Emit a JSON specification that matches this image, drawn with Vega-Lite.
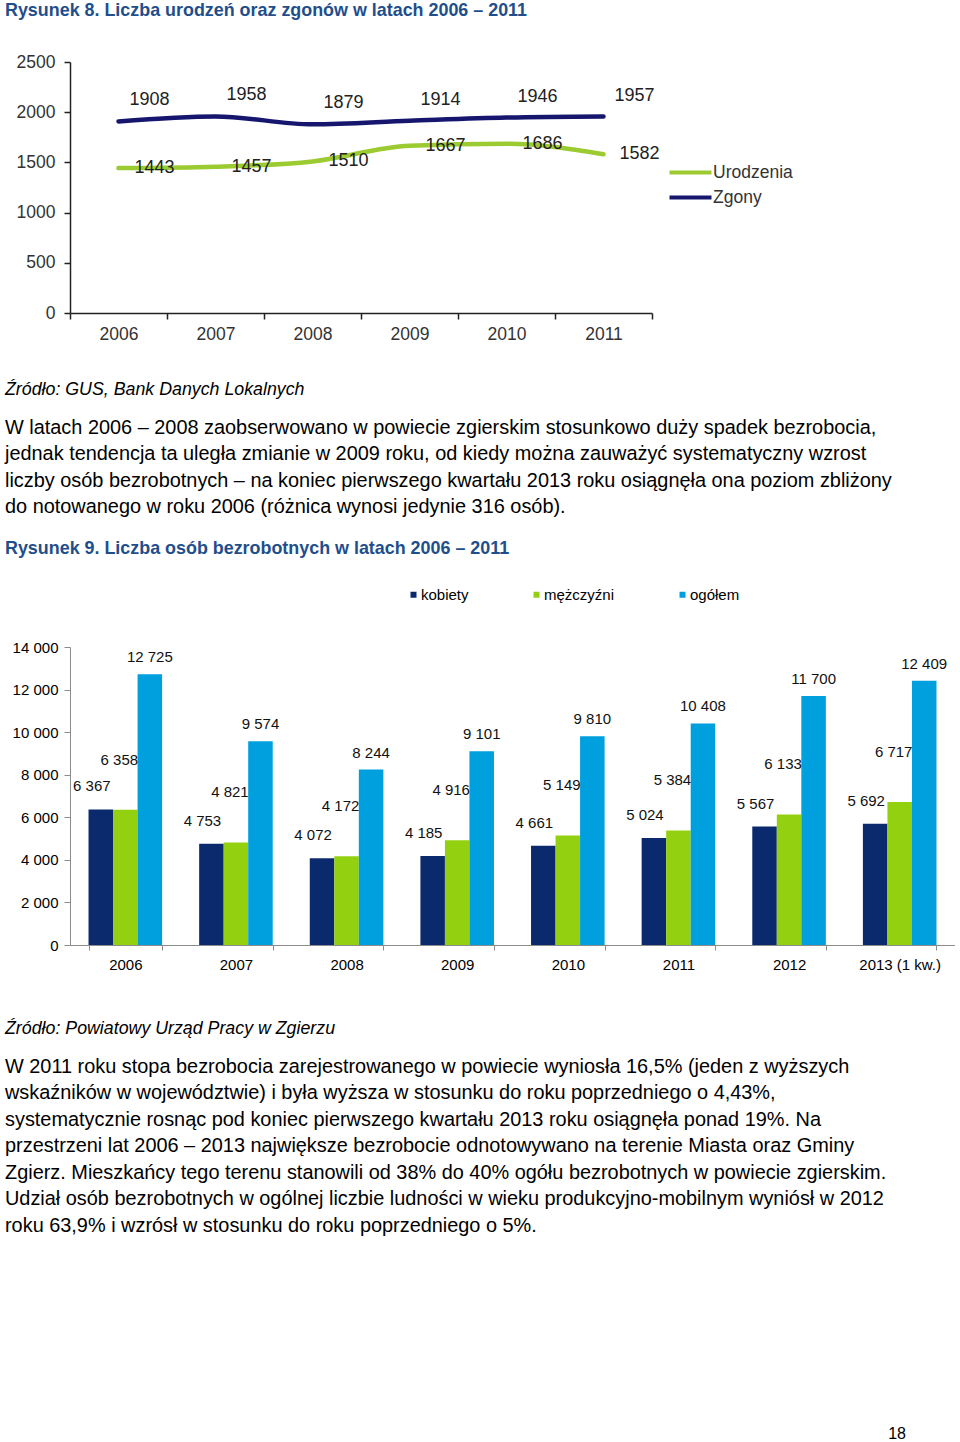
{
  "$schema": "https://vega.github.io/schema/vega-lite/v6.json",
  "padding": {"left": 5, "top": 2, "right": 0, "bottom": 0},
  "background": "white",
  "spacing": 22,
  "resolve": {"scale": {"color": "independent"}, "legend": {"color": "independent"}},
  "datasets": {
    "linie": [
      {"rok": "2006", "seria": "Urodzenia", "wartosc": 1443},
      {"rok": "2007", "seria": "Urodzenia", "wartosc": 1457},
      {"rok": "2008", "seria": "Urodzenia", "wartosc": 1510},
      {"rok": "2009", "seria": "Urodzenia", "wartosc": 1667},
      {"rok": "2010", "seria": "Urodzenia", "wartosc": 1686},
      {"rok": "2011", "seria": "Urodzenia", "wartosc": 1582},
      {"rok": "2006", "seria": "Zgony", "wartosc": 1908},
      {"rok": "2007", "seria": "Zgony", "wartosc": 1958},
      {"rok": "2008", "seria": "Zgony", "wartosc": 1879},
      {"rok": "2009", "seria": "Zgony", "wartosc": 1914},
      {"rok": "2010", "seria": "Zgony", "wartosc": 1946},
      {"rok": "2011", "seria": "Zgony", "wartosc": 1957}
    ],
    "slupki": [
      {"rok": "2006", "plec": "kobiety", "liczba": 6367},
      {"rok": "2006", "plec": "mężczyźni", "liczba": 6358},
      {"rok": "2006", "plec": "ogółem", "liczba": 12725},
      {"rok": "2007", "plec": "kobiety", "liczba": 4753},
      {"rok": "2007", "plec": "mężczyźni", "liczba": 4821},
      {"rok": "2007", "plec": "ogółem", "liczba": 9574},
      {"rok": "2008", "plec": "kobiety", "liczba": 4072},
      {"rok": "2008", "plec": "mężczyźni", "liczba": 4172},
      {"rok": "2008", "plec": "ogółem", "liczba": 8244},
      {"rok": "2009", "plec": "kobiety", "liczba": 4185},
      {"rok": "2009", "plec": "mężczyźni", "liczba": 4916},
      {"rok": "2009", "plec": "ogółem", "liczba": 9101},
      {"rok": "2010", "plec": "kobiety", "liczba": 4661},
      {"rok": "2010", "plec": "mężczyźni", "liczba": 5149},
      {"rok": "2010", "plec": "ogółem", "liczba": 9810},
      {"rok": "2011", "plec": "kobiety", "liczba": 5024},
      {"rok": "2011", "plec": "mężczyźni", "liczba": 5384},
      {"rok": "2011", "plec": "ogółem", "liczba": 10408},
      {"rok": "2012", "plec": "kobiety", "liczba": 5567},
      {"rok": "2012", "plec": "mężczyźni", "liczba": 6133},
      {"rok": "2012", "plec": "ogółem", "liczba": 11700},
      {"rok": "2013 (1 kw.)", "plec": "kobiety", "liczba": 5692},
      {"rok": "2013 (1 kw.)", "plec": "mężczyźni", "liczba": 6717},
      {"rok": "2013 (1 kw.)", "plec": "ogółem", "liczba": 12409}
    ]
  },
  "vconcat": [
    {
      "width": 582,
      "height": 251,
      "title": {
        "text": "Rysunek 8. Liczba urodzeń oraz zgonów w latach 2006 – 2011",
        "anchor": "start", "frame": "group", "dx": -65, "offset": 33,
        "font": "Liberation Sans", "fontSize": 17.9, "fontWeight": "bold", "fontStyle": "normal", "color": "#1F4E8C"
      },
      "data": {"name": "linie"},
      "encoding": {
        "x": {
          "field": "rok", "type": "ordinal",
          "scale": {"type": "band", "paddingInner": 0, "paddingOuter": 0},
          "axis": {"title": null, "labelAngle": 0, "tickBand": "extent", "tickSize": 6, "labelPadding": 6,
                   "labelFontSize": 17.5, "labelColor": "#333333", "domainColor": "#222222", "tickColor": "#222222", "domainWidth": 1.5, "tickWidth": 1.5}
        },
        "y": {
          "field": "wartosc", "type": "quantitative",
          "scale": {"domain": [0, 2500]},
          "axis": {"title": null, "values": [0, 500, 1000, 1500, 2000, 2500], "format": "d", "tickSize": 6, "labelPadding": 9,
                   "labelFontSize": 17.5, "labelColor": "#333333", "domainColor": "#222222", "tickColor": "#222222", "domainWidth": 1.5, "tickWidth": 1.5}
        }
      },
      "layer": [
        {
          "mark": {"type": "line", "interpolate": "monotone", "strokeWidth": 4.5, "strokeCap": "round"},
          "encoding": {
            "color": {
              "field": "seria", "type": "nominal",
              "scale": {"domain": ["Urodzenia", "Zgony"], "range": ["#9BCB30", "#16166E"]},
              "legend": {"title": null, "orient": "none", "direction": "vertical", "legendX": 608, "legendY": 98, "symbolType": "M-2,0H2",
                         "symbolSize": 441, "symbolStrokeWidth": 4, "labelFontSize": 17.5, "labelColor": "#333333",
                         "labelOffset": 10, "rowPadding": 4, "padding": 0}
            }
          }
        },
        {
          "transform": [{"filter": "datum.seria === 'Zgony'"}],
          "mark": {"type": "text", "dx": 31, "dy": -21, "fontSize": 18, "color": "#222222", "baseline": "middle"},
          "encoding": {"text": {"field": "wartosc", "type": "quantitative", "format": "d"}}
        },
        {
          "transform": [{"filter": "datum.seria === 'Urodzenia'"}],
          "mark": {"type": "text", "dx": 36, "dy": 0, "fontSize": 18, "color": "#222222", "baseline": "middle"},
          "encoding": {"text": {"field": "wartosc", "type": "quantitative", "format": "d"}}
        }
      ]
    },
    {
      "width": 836,
      "height": 16,
      "data": {"values": []},
      "mark": "point",
      "title": {
        "text": "Źródło: GUS, Bank Danych Lokalnych",
        "orient": "bottom", "anchor": "start", "frame": "group", "offset": 0, "dx": -65,
        "font": "Liberation Sans", "fontSize": 17.8, "fontStyle": "italic", "fontWeight": "normal", "color": "#000000",
        "subtitle": [
          "W latach 2006 – 2008 zaobserwowano w powiecie zgierskim stosunkowo duży spadek bezrobocia,",
          "jednak tendencja ta uległa zmianie w 2009 roku, od kiedy można zauważyć systematyczny wzrost",
          "liczby osób bezrobotnych – na koniec pierwszego kwartału 2013 roku osiągnęła ona poziom zbliżony",
          "do notowanego w roku 2006 (różnica wynosi jedynie 316 osób)."
        ],
        "subtitleFont": "Liberation Sans", "subtitleFontSize": 19.9, "subtitleColor": "#000000",
        "subtitleLineHeight": 26.5, "subtitlePadding": 19, "subtitleFontStyle": "normal", "subtitleFontWeight": "normal"
      }
    },
    {
      "width": 885,
      "height": 298,
      "title": {
        "text": "Rysunek 9. Liczba osób bezrobotnych w latach 2006 – 2011",
        "anchor": "start", "frame": "group", "dx": -65, "offset": 29,
        "font": "Liberation Sans", "fontSize": 17.9, "fontWeight": "bold", "fontStyle": "normal", "color": "#1F4E8C"
      },
      "data": {"name": "slupki"},
      "encoding": {
        "x": {
          "field": "rok", "type": "nominal", "sort": null,
          "scale": {"paddingInner": 0.335, "paddingOuter": 0.1675},
          "axis": {"title": null, "labelAngle": 0, "tickBand": "extent", "tickSize": 5, "labelPadding": 7,
                   "labelFontSize": 15, "labelColor": "#000000", "domainColor": "#8C8C8C", "tickColor": "#8C8C8C"}
        },
        "y": {
          "field": "liczba", "type": "quantitative",
          "scale": {"domain": [0, 14000]},
          "axis": {"title": null, "values": [0, 2000, 4000, 6000, 8000, 10000, 12000, 14000], "format": ",d",
                   "tickSize": 6, "labelPadding": 6, "labelFontSize": 15, "labelColor": "#000000",
                   "domainColor": "#8C8C8C", "tickColor": "#8C8C8C"}
        },
        "xOffset": {
          "field": "plec", "type": "nominal", "sort": ["kobiety", "mężczyźni", "ogółem"],
          "scale": {"paddingInner": 0, "paddingOuter": 0}
        }
      },
      "layer": [
        {
          "mark": {"type": "bar"},
          "encoding": {
            "color": {
              "field": "plec", "type": "nominal",
              "scale": {"domain": ["kobiety", "mężczyźni", "ogółem"], "range": ["#0B2A6E", "#93D010", "#00A0DE"]},
              "legend": {"title": null, "orient": "none", "direction": "horizontal", "legendX": 336, "legendY": -60,
                         "symbolType": "square", "symbolSize": 36, "symbolStrokeWidth": 0, "labelFontSize": 15,
                         "labelOffset": 0, "columnPadding": 60, "padding": 0, "labelColor": "#000000"}
            }
          }
        },
        {
          "transform": [{"filter": "datum.plec === 'kobiety'"}],
          "mark": {"type": "text", "dx": -9, "dy": -23, "fontSize": 15, "color": "#111111", "baseline": "middle"},
          "encoding": {"text": {"field": "liczba", "type": "quantitative", "format": ",d"}}
        },
        {
          "transform": [{"filter": "datum.plec === 'mężczyźni'"}],
          "mark": {"type": "text", "dx": -6, "dy": -50, "fontSize": 15, "color": "#111111", "baseline": "middle"},
          "encoding": {"text": {"field": "liczba", "type": "quantitative", "format": ",d"}}
        },
        {
          "transform": [{"filter": "datum.plec === 'ogółem'"}],
          "mark": {"type": "text", "dx": 0, "dy": -17, "fontSize": 15, "color": "#111111", "baseline": "middle"},
          "encoding": {"text": {"field": "liczba", "type": "quantitative", "format": ",d"}}
        }
      ]
    },
    {
      "width": 836,
      "height": 26,
      "data": {"values": []},
      "mark": "point",
      "title": {
        "text": "Źródło: Powiatowy Urząd Pracy w Zgierzu",
        "orient": "bottom", "anchor": "start", "frame": "group", "offset": 0, "dx": -65,
        "font": "Liberation Sans", "fontSize": 17.8, "fontStyle": "italic", "fontWeight": "normal", "color": "#000000",
        "subtitle": [
          "W 2011 roku stopa bezrobocia zarejestrowanego w powiecie wyniosła 16,5% (jeden z wyższych",
          "wskaźników w województwie) i była wyższa w stosunku do roku poprzedniego o 4,43%,",
          "systematycznie rosnąc pod koniec pierwszego kwartału 2013 roku osiągnęła ponad 19%. Na",
          "przestrzeni lat 2006 – 2013 największe bezrobocie odnotowywano na terenie Miasta oraz Gminy",
          "Zgierz. Mieszkańcy tego terenu stanowili od 38% do 40% ogółu bezrobotnych w powiecie zgierskim.",
          "Udział osób bezrobotnych w ogólnej liczbie ludności w wieku produkcyjno-mobilnym wyniósł w 2012",
          "roku 63,9% i wzrósł w stosunku do roku poprzedniego o 5%."
        ],
        "subtitleFont": "Liberation Sans", "subtitleFontSize": 19.9, "subtitleColor": "#000000",
        "subtitleLineHeight": 26.5, "subtitlePadding": 19, "subtitleFontStyle": "normal", "subtitleFontWeight": "normal"
      }
    },
    {
      "width": 836,
      "height": 168,
      "data": {"values": []},
      "mark": "point",
      "title": {
        "text": "18",
        "orient": "bottom", "anchor": "end", "frame": "group", "offset": 0,
        "font": "Liberation Sans", "fontSize": 16, "fontStyle": "normal", "fontWeight": "normal", "color": "#000000"
      }
    }
  ],
  "config": {
    "view": {"stroke": null},
    "font": "Liberation Sans",
    "locale": {"number": {"decimal": ",", "thousands": " ", "grouping": [3], "currency": ["", " zł"]}},
    "axis": {"grid": false, "labelFont": "Liberation Sans"},
    "legend": {"labelFont": "Liberation Sans"}
  }
}
